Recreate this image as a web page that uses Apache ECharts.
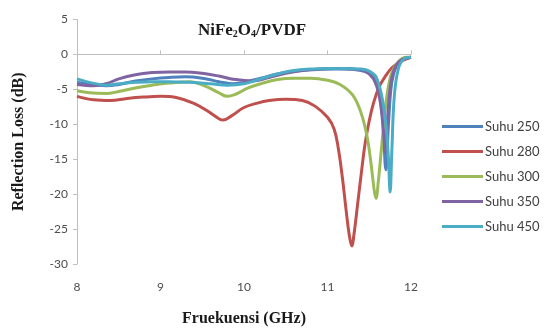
<!DOCTYPE html>
<html><head><meta charset="utf-8">
<script src="https://cdn.jsdelivr.net/npm/echarts@6/dist/echarts.min.js"></script>
<style>html,body{margin:0;padding:0;background:#fff}#c{width:552px;height:332px}</style>
</head><body><div id="c"></div>
<script>
const xTicks = [8, 9, 10, 11, 12];
const yTicks = [5, 0, -5, -10, -15, -20, -25, -30];
const seriesNames = ['Suhu 250', 'Suhu 280', 'Suhu 300', 'Suhu 350', 'Suhu 450'];

const f250 = [8.0,8.2,8.35,8.5,8.7,8.9,9.1,9.3,9.5,9.7,9.85,10.0,10.2,10.4,10.6,10.8,11.0,11.2,11.4,11.5,11.56,11.62,11.66,11.70,11.73,11.77,11.83,11.9,12.0];
const v250 = [-4.0,-4.3,-4.5,-4.3,-3.8,-3.5,-3.3,-3.2,-3.4,-3.9,-4.2,-4.0,-3.4,-2.8,-2.4,-2.2,-2.1,-2.1,-2.3,-2.7,-3.3,-5.5,-9.0,-16.5,-10.0,-4.0,-1.5,-0.8,-0.4];

const f280 = [8.0,8.2,8.4,8.6,8.8,9.0,9.2,9.4,9.55,9.7,9.75,9.85,10.0,10.15,10.3,10.5,10.7,10.85,11.0,11.08,11.13,11.18,11.22,11.26,11.29,11.32,11.36,11.40,11.45,11.5,11.55,11.62,11.7,11.78,11.9,12.0];
const v280 = [-6.0,-6.5,-6.6,-6.3,-6.1,-6.0,-6.2,-7.0,-8.0,-9.2,-9.4,-8.8,-7.6,-7.0,-6.6,-6.4,-6.6,-7.4,-9.0,-10.7,-13.5,-17.8,-22.0,-25.8,-27.4,-25.5,-21.5,-17.5,-12.8,-9.5,-7.0,-4.6,-3.0,-1.8,-0.85,-0.4];

const f300 = [8.0,8.15,8.35,8.5,8.7,8.9,9.1,9.35,9.55,9.7,9.8,9.9,10.05,10.2,10.4,10.6,10.8,11.0,11.15,11.3,11.4,11.47,11.52,11.56,11.58,11.61,11.65,11.7,11.76,11.85,11.95,12.0];
const v300 = [-5.2,-5.5,-5.6,-5.3,-4.8,-4.4,-4.1,-3.9,-4.6,-5.5,-6.0,-5.7,-4.8,-4.2,-3.6,-3.4,-3.4,-3.7,-4.3,-5.8,-8.3,-11.5,-15.5,-19.5,-20.6,-18.0,-13.0,-7.0,-3.0,-1.0,-0.4,-0.4];

const f350 = [8.0,8.2,8.35,8.5,8.7,8.9,9.1,9.3,9.5,9.7,9.9,10.1,10.3,10.5,10.7,10.9,11.1,11.3,11.45,11.55,11.62,11.67,11.69,11.72,11.76,11.82,11.9,12.0];
const v350 = [-4.3,-4.5,-4.2,-3.5,-2.9,-2.6,-2.5,-2.5,-2.7,-3.1,-3.6,-3.8,-3.3,-2.7,-2.3,-2.1,-2.0,-2.1,-2.4,-3.5,-6.0,-11.0,-14.0,-9.0,-4.0,-1.6,-0.7,-0.4];

const f450 = [8.0,8.15,8.35,8.5,8.7,8.9,9.1,9.35,9.6,9.8,10.0,10.2,10.4,10.6,10.8,11.0,11.2,11.4,11.5,11.58,11.65,11.70,11.73,11.75,11.77,11.8,11.85,11.92,12.0];
const v450 = [-3.5,-4.0,-4.4,-4.2,-4.0,-3.9,-3.9,-4.0,-4.2,-4.4,-4.2,-3.5,-2.8,-2.3,-2.1,-2.0,-2.0,-2.1,-2.4,-3.2,-6.0,-10.0,-15.0,-19.7,-14.0,-6.0,-2.0,-0.6,-0.4];

const freqs = [f250, f280, f300, f350, f450];
const vals = [v250, v280, v300, v350, v450];
const colors = ['#4F81BD', '#C0504D', '#9BBB59', '#8064A2', '#4BACC6'];

const chart = echarts.init(document.getElementById('c'));
const serif = 'Liberation Serif';
chart.setOption({
  animation: false,
  backgroundColor: '#fff',
  title: {
    text: '{a|NiFe}{s|2}{a|O}{s|4}{a|/PVDF}',
    left: 247, top: 17, textAlign: 'center',
    textStyle: {
      rich: {
        a: {fontFamily: serif, fontWeight: 'bold', fontSize: 17, color: '#1a1a1a'},
        s: {fontFamily: serif, fontWeight: 'bold', fontSize: 10, color: '#1a1a1a', verticalAlign: 'bottom', padding: [7, 0, 0, 0]}
      }
    }
  },
  legend: {
    orient: 'vertical', left: 437, top: 115, itemWidth: 41, itemHeight: 3, itemGap: 12,
    icon: 'rect',
    textStyle: {fontFamily: 'Lato', fontSize: 13, color: '#404040', padding: [0, 0, 0, -3]},
    data: seriesNames
  },
  grid: {left: 77, right: 141, top: 19.5, bottom: 66, containLabel: false},
  xAxis: {
    type: 'value', min: xTicks[0], max: xTicks[xTicks.length - 1], interval: 1,
    name: 'Fruekuensi (GHz)', nameLocation: 'middle', nameGap: 47,
    nameTextStyle: {fontFamily: serif, fontWeight: 'bold', fontSize: 16, color: '#1a1a1a'},
    axisLine: {lineStyle: {color: '#bfbfbf', width: 1}},
    axisTick: {show: true, inside: true, length: 4, lineStyle: {color: '#bfbfbf'}},
    axisLabel: {fontFamily: 'Lato', fontSize: 12, color: '#4d4d4d', margin: 17},
    splitLine: {show: false}
  },
  yAxis: {
    type: 'value', min: yTicks[yTicks.length - 1], max: yTicks[0], interval: 5,
    name: 'Reflection Loss (dB)', nameLocation: 'middle', nameGap: 50, nameRotate: 90,
    nameTextStyle: {fontFamily: serif, fontWeight: 'bold', fontSize: 16, color: '#1a1a1a'},
    axisLine: {show: true, lineStyle: {color: '#bfbfbf', width: 1}},
    axisTick: {show: true, length: 4, lineStyle: {color: '#bfbfbf'}},
    axisLabel: {fontFamily: 'Lato', fontSize: 12, color: '#4d4d4d', margin: 9},
    splitLine: {show: false}
  },
  series: seriesNames.map((n, i) => ({
    name: n, type: 'line', smooth: 0.4, symbol: 'none',
    data: freqs[i].map((f, j) => [f, vals[i][j]]),
    lineStyle: {width: 3, color: colors[i]},
    itemStyle: {color: colors[i]}
  }))
});
</script></body></html>
